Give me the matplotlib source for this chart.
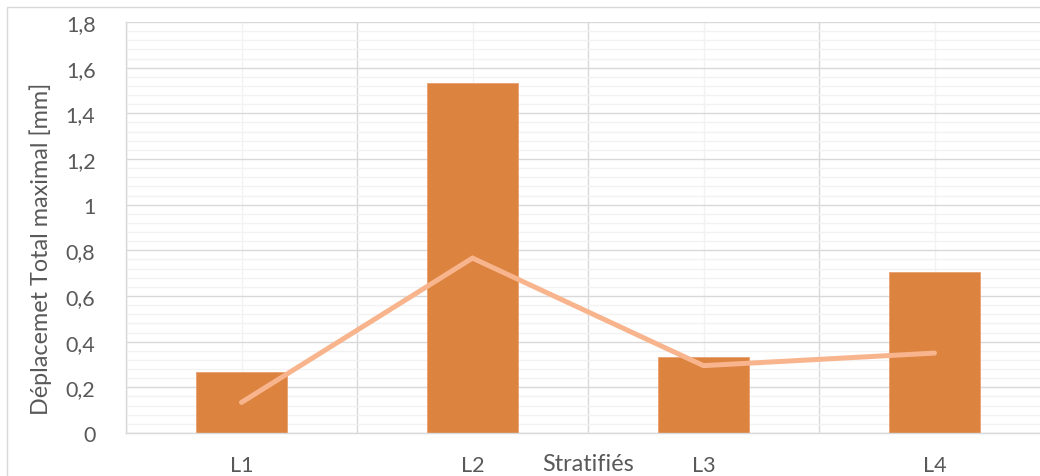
import matplotlib
matplotlib.use("Agg")
import matplotlib.pyplot as plt
from matplotlib.patches import Rectangle
from matplotlib.ticker import MultipleLocator, FixedLocator
import numpy as np

plt.rcParams['font.family'] = ['Lato', 'DejaVu Sans']

categories = ["L1", "L2", "L3", "L4"]
bar_values = [0.266, 1.532, 0.332, 0.704]
line_values = [0.134, 0.766, 0.295, 0.350]
y_ticks = [0, 0.2, 0.4, 0.6, 0.8, 1.0, 1.2, 1.4, 1.6, 1.8]
y_tick_labels = ["0", "0,2", "0,4", "0,6", "0,8", "1", "1,2", "1,4", "1,6", "1,8"]

W, H = 1040, 477
fig = plt.figure(figsize=(W / 100, H / 100), dpi=100)

# outer chart frame
fig.patches.append(Rectangle((7 / W, -0.1), 1.2, (H - 8) / H + 0.1,
                             transform=fig.transFigure, fill=False,
                             edgecolor="#D9D9D9", linewidth=1.0))

left, right, top, bottom = 126, 1050, 23, 434
ax = fig.add_axes([left / W, 1 - bottom / H, (right - left) / W, (bottom - top) / H])

x = np.arange(len(categories))
ax.set_xlim(-0.5, len(categories) - 0.5)
ax.set_ylim(0, 1.8)

# gridlines
ax.yaxis.set_major_locator(FixedLocator(y_ticks))
ax.yaxis.set_minor_locator(MultipleLocator(0.04))
ax.set_xticks(x)
ax.xaxis.set_minor_locator(FixedLocator(np.arange(-0.5, len(categories), 1.0)))
ax.grid(which="major", axis="y", color="#D9D9D9", linewidth=1.0, zorder=0)
ax.grid(which="minor", axis="y", color="#F2F2F2", linewidth=1.0, zorder=0)
ax.grid(which="minor", axis="x", color="#D9D9D9", linewidth=1.0, zorder=0)
ax.grid(which="major", axis="x", color="#F2F2F2", linewidth=1.0, zorder=0)
ax.set_axisbelow(True)

ax.bar(x, bar_values, width=0.397, color="#DB833F", edgecolor="#E9A070",
       linewidth=0.6, zorder=2)
ax.plot(x, line_values, color="#F8B58D", linewidth=3.6,
        solid_capstyle="round", solid_joinstyle="miter", zorder=3)

ax.set_yticklabels(y_tick_labels)
ax.set_xticklabels([])
ax.tick_params(axis="both", which="both", length=0, colors="#595959", labelsize=15.5)
ax.tick_params(axis="y", pad=22)

# category labels share a baseline row with the axis title
row = ax.get_xaxis_transform()
for xi, name in zip(x, categories):
    ax.text(xi, -(466 - bottom) / (bottom - top), name, transform=row,
            ha="center", va="center", color="#595959", fontsize=15.5)

for s in ("top", "right"):
    ax.spines[s].set_visible(False)
for s in ("left", "bottom"):
    ax.spines[s].set_color("#D9D9D9")
    ax.spines[s].set_linewidth(1.0)

fig.text(41 / W, 1 - 249 / H, "Déplacemet Total maximal [mm]", rotation=90,
         ha="center", va="center", color="#595959", fontsize=16.8)
fig.text(588 / W, 1 - 465 / H, "Stratifiés", ha="center", va="center",
         color="#595959", fontsize=16.8)

fig.savefig("out.png", dpi=100)
